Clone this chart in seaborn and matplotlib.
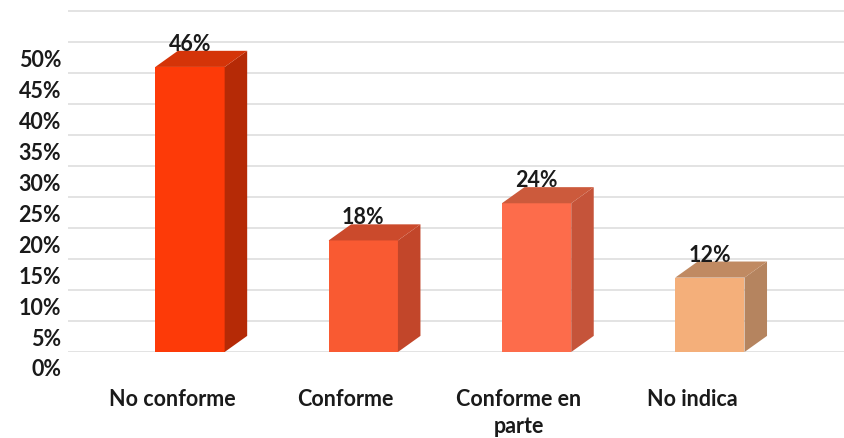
import matplotlib
matplotlib.use("Agg")
import matplotlib.pyplot as plt
import matplotlib.transforms as mtransforms
from matplotlib.patches import Polygon
import seaborn as sns

categories = ["No conforme", "Conforme", "Conforme en\nparte", "No indica"]
values = [46, 18, 24, 12]
tick_values = [0, 5, 10, 15, 20, 25, 30, 35, 40, 45, 50]
grid_values = tick_values + [55]

front_colors = ["#FD3A08", "#F95A32", "#FD6C4B", "#F4AF7A"]
side_colors = ["#B52A06", "#C2462A", "#C5543A", "#B5845F"]
top_colors = ["#D43408", "#CB4A2C", "#CC5A3C", "#C08A62"]

# 3D depth offset in data units (x: category units, y: percent)
DX, DY = 0.13, 2.6

sns.set_style("white")
plt.rcParams["font.family"] = ["Lato", "DejaVu Sans"]
plt.rcParams["font.weight"] = "bold"

fig = plt.figure(figsize=(8.45, 4.38), dpi=100)
ax = fig.add_axes([68 / 845, 86 / 438, 777 / 845, 352 / 438])

for g in grid_values:
    ax.axhline(g, color="#E0E0E0", lw=1.3, zorder=0)

sns.barplot(x=categories, y=values, hue=categories, palette=front_colors,
            legend=False, width=0.4, saturation=1, linewidth=0,
            edgecolor="none", ax=ax, zorder=3)

for i, p in enumerate(ax.patches):
    x0, w, h = p.get_x(), p.get_width(), p.get_height()
    side = Polygon([(x0 + w, 0), (x0 + w + DX, DY), (x0 + w + DX, h + DY), (x0 + w, h)],
                   closed=True, facecolor=side_colors[i], edgecolor="none", zorder=3)
    top = Polygon([(x0, h), (x0 + DX, h + DY), (x0 + w + DX, h + DY), (x0 + w, h)],
                  closed=True, facecolor=top_colors[i], edgecolor="none", zorder=3)
    ax.add_patch(side)
    ax.add_patch(top)
    ax.text(x0 + w / 2, h + DY, f"{values[i]}%", ha="center", va="baseline",
            fontsize=15.5, fontweight="bold", color="#1a1a1a", zorder=5)

ax.set_xlim(-0.704, 3.78)
ax.set_ylim(0, 56.8)
ax.set_yticks(tick_values)
ax.set_yticklabels([f"{v}%" for v in tick_values])
ax.set_xticks(range(len(categories)))
ax.set_xticklabels(categories, linespacing=1.3)
ax.tick_params(axis="both", length=0, labelsize=15.5, colors="#1a1a1a")
ax.tick_params(axis="y", pad=5)
ax.tick_params(axis="x", pad=27)
for s in ax.spines.values():
    s.set_visible(False)
ax.set_xlabel("")
ax.set_ylabel("")

# shift tick labels like the 3D floor projection
ydown = mtransforms.ScaledTranslation(0, -16 / 100, fig.dpi_scale_trans)
for lab in ax.get_yticklabels():
    lab.set_transform(lab.get_transform() + ydown)
xleft = mtransforms.ScaledTranslation(-18 / 100, 0, fig.dpi_scale_trans)
for lab in ax.get_xticklabels():
    lab.set_transform(lab.get_transform() + xleft)

fig.savefig("out.png", dpi=100)
